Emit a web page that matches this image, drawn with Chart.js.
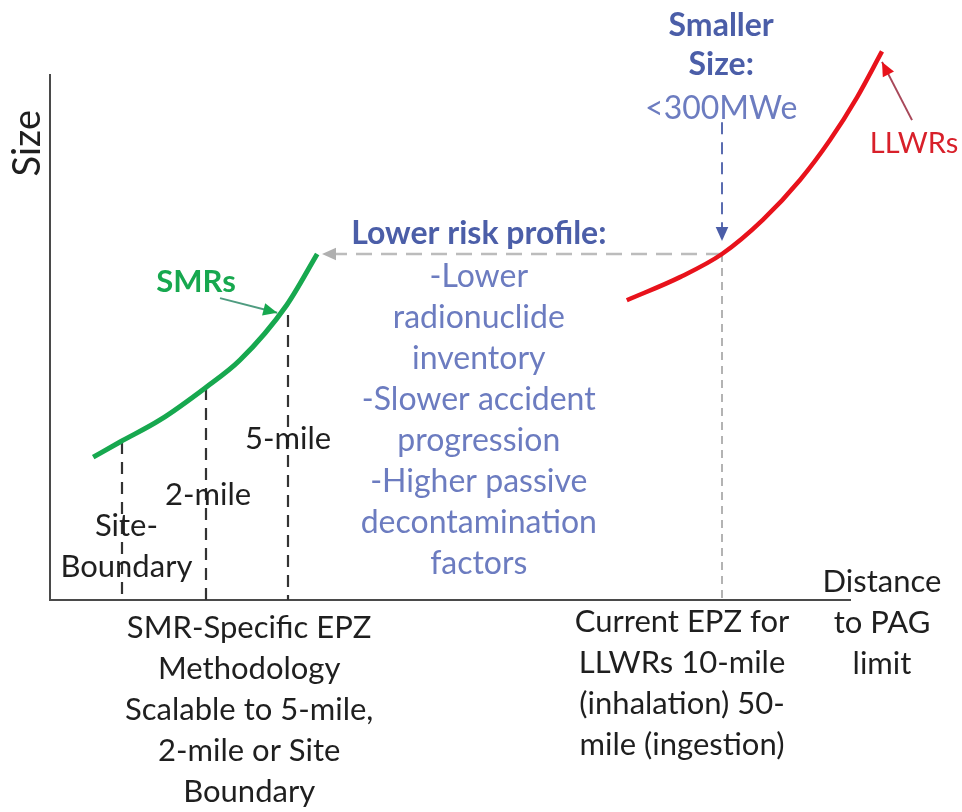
<!DOCTYPE html>
<html>
<head>
<meta charset="utf-8">
<script src="https://cdn.jsdelivr.net/npm/chart.js@4.4.0/dist/chart.umd.min.js"></script>
<style>
  html, body { margin: 0; padding: 0; background: #fff; }
  #wrap { width: 962px; height: 812px; }
</style>
</head>
<body>
<div id="wrap"><canvas id="epz-chart"></canvas></div>
<script>
// readings: distance 0-100 along the x axis, size 0-100 up the y axis
const smrDistance = [5.4, 8.75, 13.75, 19.4, 23.75, 29.6, 33.4];
const smrSize = [27.2, 30.1, 34.3, 40.4, 45.7, 56.2, 65.9];
const llwrDistance = [72.1, 78.75, 84.0, 89.1, 93.75, 97.5, 100.9, 104.0];
const llwrSize = [57.1, 61.5, 65.9, 72.4, 80.0, 87.6, 95.8, 104.5];

const zoneDistance = [9.0, 19.5, 29.75];   // site boundary, 2-mile, 5-mile
const zoneTop = [30.1, 40.4, 54.3];
const currentEpzDistance = 84.0;
const currentEpzSize = 65.9;
const riskArrowTip = 34.0;
const smallerSizeFrom = 91.0;
const smallerSizeTo = 68.4;
const smrPointerX = [21.25, 28.4];
const smrPointerY = [57.5, 54.7];
const llwrPointerX = [107.75, 104.0];
const llwrPointerY = [91.4, 102.5];

const GREEN = '#17a84f';
const RED = '#e8121b';
const BLUE = '#4b5ea8';
const BLUE_LIGHT = '#6c7cc0';
const INK = '#1f1f1f';

function pts(xs, ys) {
  return xs.map((x, i) => ({ x: x, y: ys[i] }));
}

function lineSet(data, color, width, dash, arrow) {
  return {
    data: data,
    showLine: true,
    borderColor: color,
    borderWidth: width,
    borderDash: dash || [],
    pointRadius: 0,
    fill: false,
    clip: false,
    arrow: arrow
  };
}

const datasets = [
  Object.assign(lineSet(pts(smrDistance, smrSize), GREEN, 5), { cubicInterpolationMode: 'monotone' }),
  // listed top-down so chart.js keeps the points that run past the axis end
  Object.assign(lineSet(pts(llwrDistance, llwrSize).reverse(), RED, 4.5), { cubicInterpolationMode: 'monotone' })
];
zoneDistance.forEach((x, i) => {
  datasets.push(lineSet([{ x: x, y: zoneTop[i] }, { x: x, y: 0 }], '#333333', 2.2, [12, 8]));
});
datasets.push(lineSet([{ x: currentEpzDistance, y: currentEpzSize }, { x: currentEpzDistance, y: 0 }], '#9a9a9a', 1.5, [8, 6]));
datasets.push(lineSet([{ x: currentEpzDistance, y: currentEpzSize }, { x: riskArrowTip, y: currentEpzSize }], '#bcbcbc', 2.5, [16, 9], { color: '#b0b0b0', size: 14 }));
datasets.push(lineSet([{ x: currentEpzDistance, y: smallerSizeFrom }, { x: currentEpzDistance, y: smallerSizeTo }], '#5a6cb0', 2, [12, 8], { color: '#4b5ea8', size: 14 }));
datasets.push(lineSet(pts(smrPointerX, smrPointerY), '#4f9c80', 2, null, { color: GREEN, size: 14 }));
datasets.push(lineSet(pts(llwrPointerX, llwrPointerY), '#a8485a', 2, null, { color: RED, size: 14 }));

const notes = [
  { lines: ['SMRs'], x: 18.25, y: 60.6, font: 'bold 31px Lato', color: GREEN },
  { lines: ['Lower risk profile:'], x: 53.6, y: 69.7, font: 'bold 32px Lato', color: BLUE },
  { lines: ['-Lower', 'radionuclide', 'inventory', '-Slower accident', 'progression',
            '-Higher passive', 'decontamination', 'factors'], x: 53.6, y: 61.5, font: '32px Lato', color: BLUE_LIGHT },
  { lines: ['Smaller', 'Size:'], x: 83.9, y: 109.3, font: 'bold 32px Lato', color: BLUE, step: 39 },
  { lines: ['<300MWe'], x: 83.9, y: 93.5, font: '32px Lato', color: BLUE_LIGHT },
  { lines: ['LLWRs'], x: 108, y: 86.9, font: '29px Lato', color: '#d8202a' },
  { lines: ['5-mile'], x: 29.75, y: 30.7, font: '31px Lato', color: INK },
  { lines: ['2-mile'], x: 19.75, y: 20.0, font: '31px Lato', color: INK },
  { lines: ['Site-', 'Boundary'], x: 9.55, y: 14.1, font: '31px Lato', color: INK },
  { lines: ['SMR-Specific EPZ', 'Methodology', 'Scalable to 5-mile,', '2-mile or Site', 'Boundary'],
    x: 24.9, y: -5.3, font: '31px Lato', color: INK },
  { lines: ['Current EPZ for', 'LLWRs 10-mile', '(inhalation) 50-', 'mile (ingestion)'],
    x: 79.0, y: -4.2, font: '31px Lato', color: INK },
  { lines: ['Distance', 'to PAG', 'limit'], x: 104, y: 3.4, font: '31px Lato', color: INK },
  { lines: ['Size'], x: -2.75, y: 87, font: '38px Lato', color: INK, rotate: true }
];

const sketchPlugin = {
  id: 'sketch',
  afterDatasetsDraw(chart) {
    const ctx = chart.ctx;
    const xs = chart.scales.x;
    const ys = chart.scales.y;

    // arrowheads at the last point of a dataset
    chart.data.datasets.forEach((ds, i) => {
      if (!ds.arrow) return;
      const p = chart.getDatasetMeta(i).data;
      const a = p[p.length - 2], b = p[p.length - 1];
      const ang = Math.atan2(b.y - a.y, b.x - a.x);
      const s = ds.arrow.size;
      ctx.save();
      ctx.translate(b.x, b.y);
      ctx.rotate(ang);
      ctx.fillStyle = ds.arrow.color;
      ctx.beginPath();
      ctx.moveTo(0, 0);
      ctx.lineTo(-s, -s * 0.45);
      ctx.lineTo(-s, s * 0.45);
      ctx.closePath();
      ctx.fill();
      ctx.restore();
    });

    notes.forEach(n => {
      ctx.save();
      ctx.font = n.font;
      ctx.fillStyle = n.color;
      ctx.textAlign = 'center';
      ctx.textBaseline = 'middle';
      const px = xs.getPixelForValue(n.x);
      const py = ys.getPixelForValue(n.y);
      if (n.rotate) {
        ctx.translate(px, py);
        ctx.rotate(-Math.PI / 2);
        ctx.fillText(n.lines[0], 0, 0);
      } else {
        const step = n.step || 41;
        n.lines.forEach((t, k) => ctx.fillText(t, px, py + k * step));
      }
      ctx.restore();
    });
  }
};

new Chart(document.getElementById('epz-chart'), {
  type: 'scatter',
  data: { datasets: datasets },
  options: {
    responsive: true,
    maintainAspectRatio: false,
    animation: false,
    layout: { padding: { left: 50, right: 112, top: 75, bottom: 212 } },
    plugins: { legend: { display: false }, tooltip: { enabled: false } },
    scales: {
      x: {
        type: 'linear', min: 0, max: 100,
        ticks: { display: false },
        grid: { display: false, drawTicks: false },
        border: { display: true, color: '#4a4a4a', width: 2 }
      },
      y: {
        type: 'linear', min: 0, max: 100,
        ticks: { display: false },
        grid: { display: false, drawTicks: false },
        border: { display: true, color: '#4a4a4a', width: 2 }
      }
    }
  },
  plugins: [sketchPlugin]
});
</script>
</body>
</html>
